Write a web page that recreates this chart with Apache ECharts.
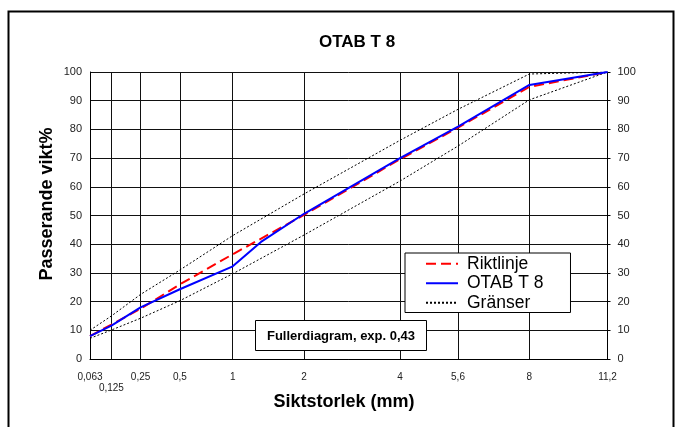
<!DOCTYPE html>
<html>
<head>
<meta charset="utf-8">
<script src="https://cdn.jsdelivr.net/npm/echarts@6/dist/echarts.min.js"></script>
<style>html,body{margin:0;padding:0;background:#fff}#c{width:681px;height:427px}</style>
</head>
<body>
<div id="c"></div>
<script>
// Fuller diagram: x axis is scaled as (size)^0.43
const EXP = 0.43;
const sieveSizes = [0.063, 0.125, 0.25, 0.5, 1, 2, 4, 5.6, 8, 11.2];
const tickLabels = ['0,063', '0,125', '0,25', '0,5', '1', '2', '4', '5,6', '8', '11,2'];
const lowLabels = ['0,125'];
const yTicks = [0, 10, 20, 30, 40, 50, 60, 70, 80, 90, 100];

const riktlinje = [8, 12, 17.5, 26, 36.5, 50.2, 69.6, 80.6, 94.8, 100];
const otabSizes = [0.063, 0.125, 0.25, 0.5, 1, 1.35, 2, 4, 5.6, 8, 11.2];
const otabValues = [8, 11.6, 18, 24.3, 32.3, 40.8, 50.6, 70, 81, 95.5, 100];
const upperLimit = [10, 15, 22.5, 31, 43, 57.5, 76.2, 87, 99.3, 100];
const lowerLimit = [7.2, 10.1, 14.2, 20.3, 29.7, 43.2, 62, 74.2, 90.3, 100];

const FONT = '"Liberation Sans", Arial, sans-serif';
const tx = d => Math.pow(d, EXP);
const pairs = (xs, ys) => xs.map((d, i) => [tx(d), ys[i]]);
const tickPos = sieveSizes.map(tx);

function labelFor(v) {
  let best = 0;
  tickPos.forEach((p, i) => { if (Math.abs(p - v) < Math.abs(tickPos[best] - v)) best = i; });
  const t = tickLabels[best];
  return lowLabels.indexOf(t) >= 0 ? '{low|' + t + '}' : t;
}

const chart = echarts.init(document.getElementById('c'), null, {renderer: 'canvas'});
chart.setOption({
  animation: false,
  backgroundColor: '#fff',
  textStyle: {fontFamily: FONT},
  grid: {left: 90, top: 72, width: 517.5, height: 287, outerBoundsMode: 'none', containLabel: false},
  xAxis: {
    type: 'value',
    min: tx(sieveSizes[0]),
    max: tx(sieveSizes[sieveSizes.length - 1]),
    axisLine: {show: true, lineStyle: {color: '#000', width: 1}},
    axisTick: {show: false, customValues: tickPos},
    axisLabel: {
      customValues: tickPos,
      interval: 0,
      formatter: v => labelFor(v),
      fontSize: 10, color: '#222', margin: 13, fontFamily: FONT,
      showMinLabel: true, showMaxLabel: true, hideOverlap: false,
      rich: {low: {fontSize: 10, color: '#222', fontFamily: FONT, padding: [11, 0, 0, 0]}}
    },
    splitLine: {show: true, lineStyle: {color: '#111', width: 1}}
  },
  yAxis: [{
    type: 'value', min: 0, max: 100, interval: 10, position: 'left',
    axisLine: {show: true, lineStyle: {color: '#000', width: 1}},
    axisTick: {show: false},
    axisLabel: {fontSize: 11, color: '#222', margin: 8, fontFamily: FONT},
    splitLine: {show: true, lineStyle: {color: '#111', width: 1}}
  }, {
    type: 'value', min: 0, max: 100, interval: 10, position: 'right',
    axisLine: {show: true, lineStyle: {color: '#000', width: 1}},
    axisTick: {show: true, length: 3, lineStyle: {color: '#000'}},
    axisLabel: {fontSize: 11, color: '#222', margin: 10, fontFamily: FONT},
    splitLine: {show: false}
  }],
  legend: {
    left: 405, top: 253, orient: 'vertical',
    backgroundColor: '#fff', borderColor: '#000', borderWidth: 1, borderRadius: 0,
    padding: [1, 27, 0, 20], itemGap: 0, itemWidth: 32, itemHeight: 14,
    itemStyle: {opacity: 0},
    textStyle: {fontSize: 17.5, color: '#000', lineHeight: 19.5, fontFamily: FONT, padding: [0, 0, 0, 4]},
    data: ['Riktlinje', 'OTAB T 8', 'Gränser'],
    z: 10
  },
  series: [{
    name: 'Gränser', type: 'line', symbol: 'none', silent: true,
    data: pairs(sieveSizes, upperLimit),
    lineStyle: {color: '#000', width: 1, type: [2, 2]}, itemStyle: {color: '#000'}
  }, {
    name: 'Gränser', type: 'line', symbol: 'none', silent: true,
    data: pairs(sieveSizes, lowerLimit),
    lineStyle: {color: '#000', width: 1, type: [2, 2]}, itemStyle: {color: '#000'}
  }, {
    name: 'Riktlinje', type: 'line', symbol: 'none',
    data: pairs(sieveSizes, riktlinje),
    lineStyle: {color: '#ff0000', width: 2, type: [10, 5]}, itemStyle: {color: '#ff0000'}
  }, {
    name: 'OTAB T 8', type: 'line', symbol: 'none',
    data: pairs(otabSizes, otabValues),
    lineStyle: {color: '#0000ff', width: 2}, itemStyle: {color: '#0000ff'}
  }],
  graphic: [
    {type: 'rect', shape: {x: 8.5, y: 11.5, width: 665, height: 430}, style: {fill: 'none', stroke: '#000', lineWidth: 2}, z: 100},
    {type: 'text', x: 357, y: 42, style: {text: 'OTAB T 8', font: 'bold 17px ' + FONT, fill: '#000', align: 'center', verticalAlign: 'middle'}},
    {type: 'text', x: 344, y: 402, style: {text: 'Siktstorlek (mm)', font: 'bold 18px ' + FONT, fill: '#000', align: 'center', verticalAlign: 'middle'}},
    {type: 'text', x: 47, y: 204, rotation: Math.PI / 2, style: {text: 'Passerande vikt%', font: 'bold 18px ' + FONT, fill: '#000', align: 'center', verticalAlign: 'middle'}},
    {type: 'rect', z: 50, shape: {x: 255.5, y: 320.5, width: 171, height: 30}, style: {fill: '#fff', stroke: '#000', lineWidth: 1}},
    {type: 'text', z: 51, x: 341, y: 336, style: {text: 'Fullerdiagram, exp. 0,43', font: 'bold 13px ' + FONT, fill: '#000', align: 'center', verticalAlign: 'middle'}}
  ]
});
</script>
</body>
</html>
